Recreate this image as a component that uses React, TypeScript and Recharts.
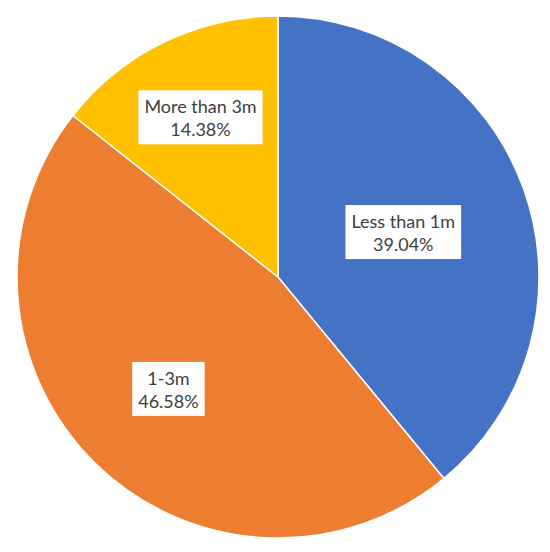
import React from 'react';
import { PieChart, Pie, Cell } from 'recharts';

const categories = ['Less than 1m', '1-3m', 'More than 3m'];
const shares = [39.04, 46.58, 14.38];
const colors = ['#4472C4', '#ED7D31', '#FFC000'];

// how far out along the slice's mid angle each label box sits (fraction of radius)
const labelRadius = [0.51, 0.6, 0.68];

const FONT_SIZE = 18;
const FONT = `${FONT_SIZE}px Lato`;

function textWidth(s: string) {
  const c = document.createElement('canvas').getContext('2d');
  if (!c) return s.length * 8;
  c.font = FONT;
  return c.measureText(s).width;
}

const RADIAN = Math.PI / 180;

function renderLabel(props: any) {
  const { cx, cy, midAngle, outerRadius, index } = props;
  const r = outerRadius * labelRadius[index];
  const x = cx + r * Math.cos(-midAngle * RADIAN);
  const y = cy + r * Math.sin(-midAngle * RADIAN);
  const line1 = categories[index];
  const line2 = `${shares[index].toFixed(2)}%`;
  const w = Math.max(textWidth(line1), textWidth(line2)) + 12;
  const h = 54;
  return (
    <g key={`lbl-${index}`}>
      <rect x={x - w / 2} y={y - h / 2} width={w} height={h} fill="#ffffff" />
      <text x={x} y={y - 4} textAnchor="middle" fill="#404040" fontFamily="Lato" fontSize={FONT_SIZE}>
        {line1}
      </text>
      <text x={x} y={y + 19} textAnchor="middle" fill="#404040" fontFamily="Lato" fontSize={FONT_SIZE}>
        {line2}
      </text>
    </g>
  );
}

export default function App() {
  const data = categories.map((name, i) => ({ name, value: shares[i] }));

  return (
    <div style={{ position: 'absolute', left: 0, top: 0, width: 550, height: 552, background: '#ffffff' }}>
      <PieChart width={550} height={552} margin={{ top: 0, right: 0, bottom: 0, left: 0 }}>
        <Pie
          data={data}
          dataKey="value"
          nameKey="name"
          cx={278}
          cy={277}
          outerRadius={261}
          startAngle={90}
          endAngle={-270}
          stroke="#ffffff"
          strokeWidth={1.5}
          label={renderLabel}
          labelLine={false}
          isAnimationActive={false}
        >
          {data.map((d, i) => (
            <Cell key={d.name} fill={colors[i]} />
          ))}
        </Pie>
      </PieChart>
    </div>
  );
}
